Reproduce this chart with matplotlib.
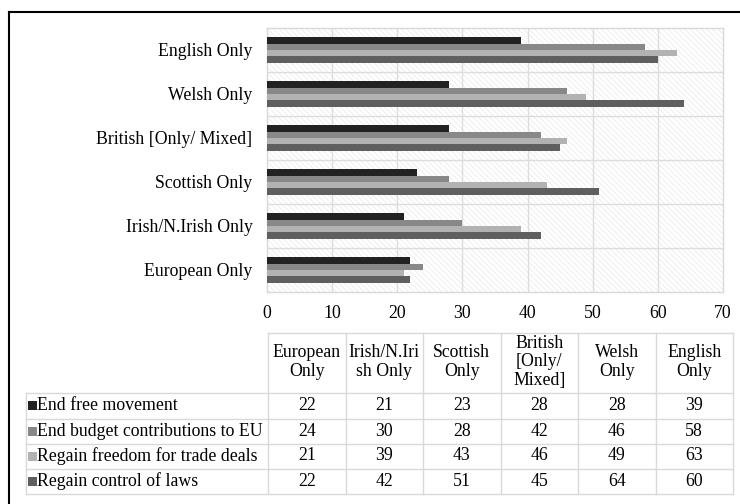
import matplotlib
matplotlib.use("Agg")
import matplotlib.pyplot as plt
from matplotlib.patches import Rectangle
from matplotlib.lines import Line2D
import numpy as np

plt.rcParams['font.family'] = ['Liberation Serif', 'DejaVu Serif']
plt.rcParams['hatch.linewidth'] = 0.5

# ---- data ----
categories = ["European Only", "Irish/N.Irish Only", "Scottish Only",
              "British [Only/ Mixed]", "Welsh Only", "English Only"]
table_headers = ["European\nOnly", "Irish/N.Iri\nsh Only", "Scottish\nOnly",
                 "British\n[Only/\nMixed]", "Welsh\nOnly", "English\nOnly"]
series_names = ["End free movement", "End budget contributions to EU",
                "Regain freedom for trade deals", "Regain control of laws"]
end_free_movement = [22, 21, 23, 28, 28, 39]
end_budget = [24, 30, 28, 42, 46, 58]
regain_trade = [21, 39, 43, 46, 49, 63]
regain_laws = [22, 42, 51, 45, 64, 60]
x_ticks = [0, 10, 20, 30, 40, 50, 60, 70]

series_values = [end_free_movement, end_budget, regain_trade, regain_laws]
colors = ["#222222", "#888888", "#b2b2b2", "#5f5f5f"]

W, H = 740, 504
fig = plt.figure(figsize=(W / 100, H / 100), dpi=100)
fig.patch.set_facecolor("white")

def fx(x):
    return x / W

def fy(y):
    return 1 - y / H

FS = 12.8

# plot area in pixels
L, R, T, B = 267, 723, 28, 292
ax = fig.add_axes([fx(L), fy(B), fx(R) - fx(L), fy(T) - fy(B)])

# hatched background
ax.add_patch(Rectangle((0, 0), 1, 1, transform=ax.transAxes, facecolor="white",
                       edgecolor="#e8e8e8", hatch="\\" * 6, linewidth=0, zorder=0))
ax.set_facecolor("white")

ypos = np.arange(len(categories))
h = 0.143
for j, vals in enumerate(series_values):
    ax.barh(ypos + (1.5 - j) * h, vals, height=h, color=colors[j],
            edgecolor="none", zorder=3)

ax.set_xlim(0, 70)
ax.set_ylim(-0.5, len(categories) - 0.5)
ax.set_xticks(x_ticks)
ax.set_xticklabels([str(t) for t in x_ticks], fontsize=FS)
ax.set_yticks(ypos)
ax.set_yticklabels(categories, fontsize=FS)
ax.tick_params(axis='both', length=0)
ax.tick_params(axis='x', pad=9)
ax.tick_params(axis='y', pad=10.5)
for t in x_ticks[1:-1]:
    ax.axvline(t, color="#dddddd", lw=1, zorder=1)
for b in np.arange(0.5, len(categories) - 0.5, 1):
    ax.axhline(b, color="#dddddd", lw=1, zorder=1)
for s in ax.spines.values():
    s.set_color("#d9d9d9")
    s.set_linewidth(1)

# ---- data table ----
tcol = "#d9d9d9"
col_left = 268
col_w = (733 - 268) / len(categories)
col_edges = [col_left + i * col_w for i in range(len(categories) + 1)]
lab_left = 26
hdr_top, hdr_bot = 333, 393
row_edges = [393, 418.5, 443.5, 468.5, 494]

def hline(x0, x1, y):
    fig.add_artist(Line2D([fx(x0), fx(x1)], [fy(y), fy(y)], color=tcol, lw=1))

def vline(x, y0, y1):
    fig.add_artist(Line2D([fx(x), fx(x)], [fy(y0), fy(y1)], color=tcol, lw=1))

hline(col_left, col_edges[-1], hdr_top)
for y in row_edges:
    hline(lab_left, col_edges[-1], y)
for x in col_edges:
    vline(x, hdr_top, row_edges[-1])
vline(lab_left, row_edges[0], row_edges[-1])

for i, hd in enumerate(table_headers):
    cx = (col_edges[i] + col_edges[i + 1]) / 2
    fig.text(fx(cx), fy((hdr_top + hdr_bot) / 2 - 1), hd, ha="center", va="center",
             fontsize=FS, linespacing=1.15)

for r, (name, vals) in enumerate(zip(series_names, series_values)):
    cy = (row_edges[r] + row_edges[r + 1]) / 2
    fig.add_artist(Rectangle((fx(28), fy(cy + 4.5)), 9 / W, 9 / H,
                             facecolor=colors[r], edgecolor="none"))
    fig.text(fx(37), fy(cy), name, ha="left", va="center", fontsize=FS)
    for i, v in enumerate(vals):
        cx = (col_edges[i] + col_edges[i + 1]) / 2
        fig.text(fx(cx), fy(cy), str(v), ha="center", va="center", fontsize=FS)

# outer frame
fig.add_artist(Line2D([fx(9), 1.0], [fy(12), fy(12)], color="black", lw=1.5))
fig.add_artist(Line2D([fx(9), fx(9)], [fy(12), 0.0], color="black", lw=1.5))

fig.savefig("out.png", dpi=100)
